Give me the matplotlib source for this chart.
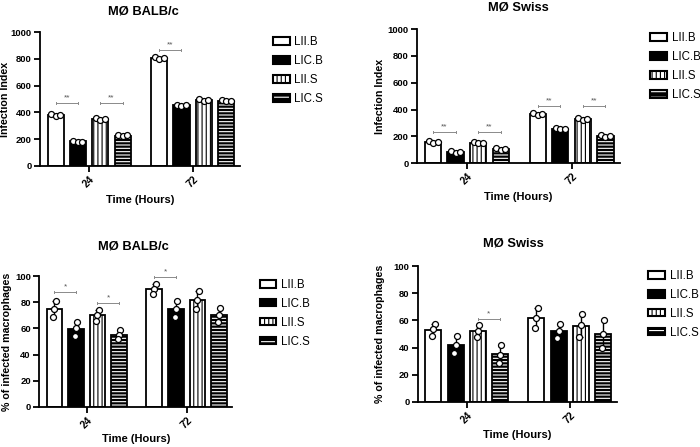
import numpy as np
import matplotlib
matplotlib.use('Agg')
import matplotlib.pyplot as plt
import matplotlib.patches as mpatches

plt.rcParams['font.family'] = ['Liberation Sans', 'DejaVu Sans']
plt.rcParams['hatch.linewidth'] = 0.8

times = ['24', '72']
strains = ['LII.B', 'LIC.B', 'LII.S', 'LIC.S']

# replicates per strain: [24h reps, 72h reps]
ii_balb = [
    [[385, 372, 380], [812, 800, 808]],
    [[188, 178, 182], [458, 448, 455]],
    [[355, 345, 350], [497, 485, 492]],
    [[230, 222, 228], [490, 482, 488]],
]
ii_swiss = [
    [[162, 152, 158], [375, 362, 370]],
    [[88, 76, 84], [262, 252, 258]],
    [[158, 148, 152], [340, 325, 332]],
    [[112, 96, 104], [210, 192, 200]],
]
pct_balb = [
    [[81.1, 74.6, 68.9], [93.9, 89.8, 86.0]],
    [[65.1, 60.1, 54.4], [81.1, 74.8, 68.5]],
    [[74.0, 70.2, 65.6], [88.8, 81.7, 74.8]],
    [[58.8, 55.0, 51.7], [75.3, 70.2, 64.6]],
]
pct_swiss = [
    [[57.6, 53.5, 48.6], [69.4, 61.8, 54.8]],
    [[48.4, 41.8, 35.7], [57.1, 52.5, 47.4]],
    [[56.4, 52.3, 47.9], [64.5, 56.4, 47.9]],
    [[41.6, 34.7, 28.9], [60.1, 49.9, 39.9]],
]

# significance: (time index, strain a, strain b, bracket level, label)
sig_ii_balb = [(0, 0, 1, 467, '**'), (0, 2, 3, 467, '**'), (1, 0, 1, 865, '**')]
sig_ii_swiss = [(0, 0, 1, 235, '**'), (0, 2, 3, 235, '**'),
                (1, 0, 1, 427, '**'), (1, 2, 3, 427, '**')]
sig_pct_balb = [(0, 0, 1, 87.6, '*'), (0, 2, 3, 79.6, '*'), (1, 0, 1, 99.5, '*')]
sig_pct_swiss = [(0, 2, 3, 61, '*')]

centers = np.array([0, 4.63])
width = 0.72


def draw_bars(ax, x, h, i, lw=1.3):
    if i == 0:
        ax.bar(x, h, width, color='white', edgecolor='black', linewidth=lw, zorder=2)
    elif i == 1:
        ax.bar(x, h, width, color='black', edgecolor='black', linewidth=lw, zorder=2)
    elif i == 2:
        ax.bar(x, h, width, color='white', edgecolor='black', hatch='||||',
               linewidth=lw, zorder=2)
    else:
        ax.bar(x, h, width, color='black', edgecolor='white', hatch='-----',
               linewidth=0, zorder=2)
        ax.bar(x, h, width, fill=False, edgecolor='black', linewidth=lw, zorder=2)


def legend_handles():
    hs = [
        mpatches.Patch(facecolor='white', edgecolor='black', linewidth=1.5),
        mpatches.Patch(facecolor='black', edgecolor='black', linewidth=1.5),
        mpatches.Patch(facecolor='white', edgecolor='black', hatch='||||', linewidth=1.5),
        (mpatches.Patch(facecolor='black', edgecolor='white', hatch='---', linewidth=0),
         mpatches.Patch(fill=False, edgecolor='black', linewidth=1.5)),
    ]
    return hs


def panel(rect, data, ymax, ystep, ylabel, title, title_xy, sig, jitter,
          legend_xy, xlab_y, ylab_x):
    ax = fig.add_axes(rect)
    for i in range(len(strains)):
        reps = np.array(data[i])
        means = reps.mean(axis=1)
        sd = reps.std(axis=1, ddof=1)
        x = centers + (i - 1.5)
        draw_bars(ax, x, means, i)
        ax.errorbar(x, means, yerr=sd, fmt='none', ecolor='black', elinewidth=1,
                    capsize=1.5, capthick=1, zorder=3)
        for k in range(reps.shape[1]):
            ax.plot(x + jitter[k], reps[:, k], 'o', mfc='white', mec='black',
                    ms=4.3, mew=0.9, zorder=4)

    d = ymax * 0.008
    for t, a, b, y, lab in sig:
        xa = centers[t] + a - 1.5
        xb = centers[t] + b - 1.5
        ax.plot([xa, xb], [y, y], color='#8a8a8a', lw=0.7, zorder=3)
        ax.plot([xa, xa], [y - d, y + d], color='#8a8a8a', lw=0.7, zorder=3)
        ax.plot([xb, xb], [y - d, y + d], color='#8a8a8a', lw=0.7, zorder=3)
        ax.text((xa + xb) / 2, y + ymax * 0.012, lab, ha='center', va='bottom',
                fontsize=6, color='#555555')

    ax.set_xlim(-2.2, 6.75)
    ax.set_ylim(0, ymax)
    ax.set_yticks(np.arange(0, ymax + 1, ystep))
    ax.set_xticks(centers)
    ax.set_xticklabels(times, rotation=45, ha='right', rotation_mode='anchor')
    for s in ['top', 'right']:
        ax.spines[s].set_visible(False)
    for s in ['left', 'bottom']:
        ax.spines[s].set_linewidth(1.3)
    ax.tick_params(axis='both', length=4, width=1.3, labelsize=6.8, pad=2)
    ax.tick_params(axis='x', labelsize=7.5)
    for lbl in ax.get_xticklabels() + ax.get_yticklabels():
        lbl.set_fontweight('bold')
    ax.set_xlabel('Time (Hours)', fontsize=8, fontweight='bold')
    ax.xaxis.set_label_coords(0.5, xlab_y)
    ax.set_ylabel(ylabel, fontsize=7.7, fontweight='bold')
    ax.yaxis.set_label_coords(ylab_x, 0.5)
    ax.text(title_xy[0], title_xy[1], title, transform=ax.transAxes, ha='center',
            va='center', fontsize=9.3, fontweight='bold')
    ax.legend(legend_handles(), strains, loc='upper left',
              bbox_to_anchor=legend_xy, bbox_transform=fig.transFigure,
              frameon=False, fontsize=8.3, handlelength=1.45, handleheight=0.6,
              labelspacing=0.6, handletextpad=0.4, borderpad=0, borderaxespad=0)
    return ax


fig = plt.figure(figsize=(7, 4.47), dpi=100)

top_jit = [-0.2, 0.0, 0.2]
bot_jit = [0.06, 0.0, -0.06]

panel([0.057, 0.629, 0.286, 0.299], ii_balb, 1000, 200, 'Infection Index',
      'MØ BALB/c', (0.515, 1.157), sig_ii_balb, top_jit, (0.39, 0.919),
      -0.216, -0.15)
panel([0.596, 0.635, 0.289, 0.300], ii_swiss, 1000, 200, 'Infection Index',
      'MØ Swiss', (0.5, 1.164), sig_ii_swiss, top_jit, (0.929, 0.928),
      -0.216, -0.158)
panel([0.056, 0.0895, 0.276, 0.293], pct_balb, 100, 20, '% of infected macrophages',
      'MØ BALB/c', (0.487, 1.229), sig_pct_balb, bot_jit, (0.371, 0.376),
      -0.206, -0.142)
panel([0.597, 0.1007, 0.284, 0.304], pct_swiss, 100, 20, '% of infected macrophages',
      'MØ Swiss', (0.48, 1.165), sig_pct_swiss, bot_jit, (0.926, 0.396),
      -0.206, -0.166)

fig.savefig('out.png', dpi=100)
